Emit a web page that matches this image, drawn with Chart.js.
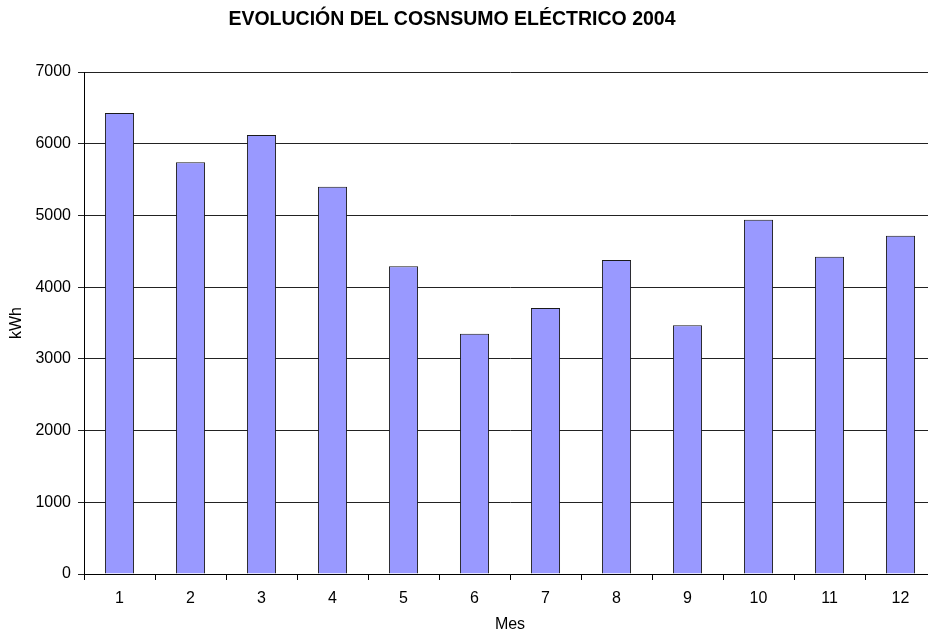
<!DOCTYPE html>
<html>
<head>
<meta charset="utf-8">
<script src="https://cdn.jsdelivr.net/npm/chart.js@4"></script>
<style>
  html, body { margin: 0; padding: 0; background: #fff; overflow: hidden; }
  #wrap { position: relative; width: 940px; height: 636px; }
  #title {
    position: absolute; left: 0; top: 7px; width: 904px;
    text-align: center; font-family: "Liberation Sans", Arial, sans-serif;
    font-weight: bold; font-size: 19.5px; line-height: 23px; color: #000;
  }
</style>
</head>
<body>
<div id="wrap">
  <div id="title">EVOLUCIÓN DEL COSNSUMO ELÉCTRICO 2004</div>
  <canvas id="chart" width="940" height="636"></canvas>
</div>
<script>
// meses y consumo (kWh)
var meses   = ["1","2","3","4","5","6","7","8","9","10","11","12"];
var consumo = [6430, 5740, 6120, 5400, 4290, 3350, 3710, 4380, 3470, 4940, 4425, 4715];
var yTicks  = [0, 1000, 2000, 3000, 4000, 5000, 6000, 7000];

var fontFam = "'Liberation Sans', Arial, sans-serif";

var ctx = document.getElementById("chart");
var chart = new Chart(ctx, {
  type: 'bar',
  data: {
    labels: meses,
    datasets: [{
      data: consumo,
      backgroundColor: "#9999FF",
      borderColor: "#1a1a1a",
      borderWidth: 1,
      barPercentage: 0.41,
      categoryPercentage: 1.0
    }]
  },
  options: {
    responsive: false,
    animation: false,
    layout: { padding: { left: 0, right: 4, top: 72, bottom: 0 } },
    plugins: {
      legend: { display: false },
      tooltip: { enabled: false },
      title: { display: false }
    },
    scales: {
      x: {
        offset: true,
        grid: {
          offset: true,
          drawOnChartArea: false,
          drawTicks: true,
          tickLength: 6,
          color: "#000"
        },
        border: { display: true, color: "#000", width: 1 },
        ticks: {
          color: "#000",
          padding: 9,
          font: { family: fontFam, size: 16 }
        },
        title: {
          display: true,
          text: "Mes",
          color: "#000",
          padding: { top: 0, bottom: 2 },
          font: { family: fontFam, size: 16 }
        },
        afterFit: function(scale) { scale.height = 62; }
      },
      y: {
        min: 0,
        max: 7000,
        afterBuildTicks: function(scale) {
          scale.ticks = yTicks.map(function(v){ return { value: v }; });
        },
        grid: {
          color: "#222",
          lineWidth: 1,
          drawTicks: true,
          tickLength: 6
        },
        border: { display: true, color: "#000", width: 1 },
        ticks: {
          color: "#000",
          padding: 7,
          font: { family: fontFam, size: 16 },
          callback: function(v) { return String(v); }
        },
        title: {
          display: true,
          text: "kWh",
          color: "#000",
          padding: { top: 7, bottom: 0 },
          font: { family: fontFam, size: 16 }
        },
        afterFit: function(scale) { scale.width = 84; }
      }
    }
  }
});
</script>
</body>
</html>
